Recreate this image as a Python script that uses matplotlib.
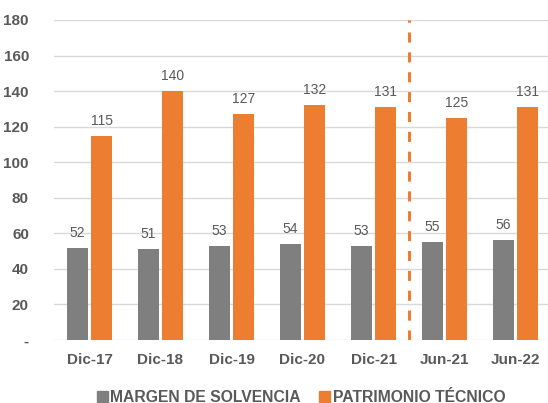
import matplotlib.pyplot as plt
import numpy as np
from matplotlib.patches import Patch

# -----------------------------
# Data
# -----------------------------
categories = ["Dic-17", "Dic-18", "Dic-19", "Dic-20", "Dic-21", "Jun-21", "Jun-22"]
margen = [52, 51, 53, 54, 53, 55, 56]
patrimonio = [115, 140, 127, 132, 131, 125, 131]
yticks = [0, 20, 40, 60, 80, 100, 120, 140, 160, 180]
ytick_labels = ["-", "20", "40", "60", "80", "100", "120", "140", "160", "180"]

gray = "#7F7F7F"
orange = "#ED7D31"
text_col = "#595959"

plt.rcParams["font.family"] = ["Liberation Sans", "DejaVu Sans"]

fig = plt.figure(figsize=(5.48, 4.03), dpi=100)
ax = fig.add_axes([54 / 548, 63 / 403, 497 / 548, 320 / 403])

x = np.arange(len(categories))
w = 0.30
off = 0.17

bars_g = ax.bar(x - off, margen, width=w, color=gray, zorder=3)
bars_o = ax.bar(x + off, patrimonio, width=w, color=orange, zorder=3)

# data labels
for b, v in zip(bars_g, margen):
    ax.text(b.get_x() + b.get_width() / 2, v + 4.5, str(v), ha="center",
            va="bottom", fontsize=10, color=text_col)
for b, v in zip(bars_o, patrimonio):
    ax.text(b.get_x() + b.get_width() / 2, v + 4.5, str(v), ha="center",
            va="bottom", fontsize=10, color=text_col)

# separator line between Dic-21 and Jun-21
ax.axvline(4.5, color=orange, linestyle=(0, (3.3, 3.2)), linewidth=2.2, zorder=4)

ax.set_ylim(0, 180)
ax.set_xlim(-0.5, 6.5)
ax.set_yticks(yticks)
ax.set_yticklabels(ytick_labels, fontsize=11, fontweight="bold", color=text_col)
ax.set_xticks(x)
ax.set_xticklabels(categories, fontsize=11, fontweight="bold", color=text_col)
ax.tick_params(axis="both", length=0)
ax.tick_params(axis="y", pad=18)
ax.tick_params(axis="x", pad=9)

ax.grid(axis="y", color="#D9D9D9", linewidth=1, zorder=0)
for s in ax.spines.values():
    s.set_visible(False)

handles = [Patch(color=gray, label="MARGEN DE SOLVENCIA"),
           Patch(color=orange, label="PATRIMONIO TÉCNICO")]
leg = fig.legend(handles=handles, loc="center", bbox_to_anchor=(301 / 548, 6 / 403),
                 ncol=2, frameon=False, handlelength=0.7, handleheight=0.7,
                 handletextpad=0.15, columnspacing=1.2,
                 prop={"size": 11.3, "weight": "bold"})
for t in leg.get_texts():
    t.set_color(text_col)

plt.savefig("out.png", dpi=100)
